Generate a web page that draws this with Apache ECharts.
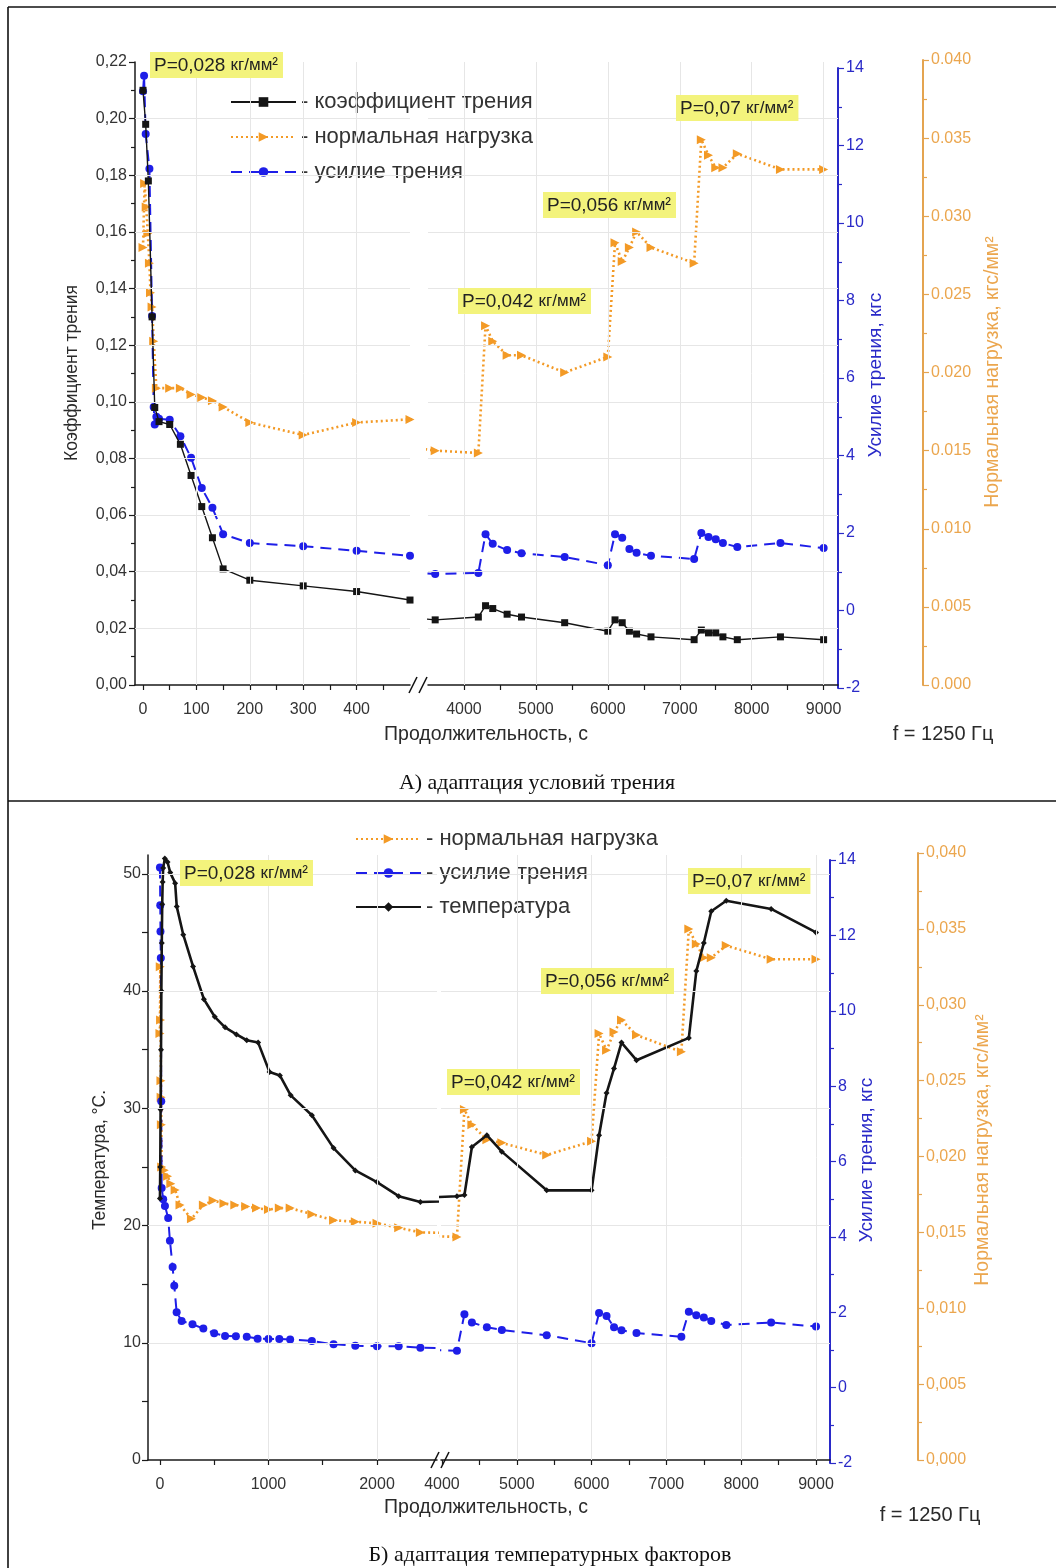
<!DOCTYPE html>
<html><head><meta charset="utf-8">
<script src="https://cdn.jsdelivr.net/npm/echarts@6/dist/echarts.min.js"></script>
<style>html,body{margin:0;padding:0;background:#fff}#c{width:1056px;height:1568px}</style>
</head><body><div id="c"></div>
<script>
// ===== Chart А: адаптация условий трения =====
const A_coef_t = [0, 5, 10, 17, 22, 30, 50, 70, 90, 110, 130, 150, 200, 300, 400, 500, 3600, 4200, 4300, 4400, 4600, 4800, 5400, 6000, 6100, 6200, 6300, 6400, 6600, 7200, 7300, 7400, 7500, 7600, 7800, 8400, 9000];
const A_coef_v = [0.210, 0.198, 0.178, 0.130, 0.098, 0.093, 0.092, 0.085, 0.074, 0.063, 0.052, 0.041, 0.037, 0.035, 0.033, 0.030, 0.023, 0.024, 0.028, 0.027, 0.025, 0.024, 0.022, 0.019, 0.023, 0.022, 0.019, 0.018, 0.017, 0.016, 0.0194, 0.0184, 0.0184, 0.017, 0.016, 0.017, 0.016];
const A_force_t = [0, 2, 5, 12, 17, 20, 22, 25, 30, 50, 70, 90, 110, 130, 150, 200, 300, 400, 500, 3600, 4200, 4300, 4400, 4600, 4800, 5400, 6000, 6100, 6200, 6300, 6400, 6600, 7200, 7300, 7400, 7500, 7600, 7800, 8400, 9000];
const A_force_v = [13.4, 13.8, 12.3, 11.4, 7.6, 5.25, 4.8, 5.0, 4.95, 4.92, 4.5, 3.94, 3.16, 2.65, 1.97, 1.74, 1.66, 1.54, 1.41, 0.94, 0.97, 1.97, 1.72, 1.56, 1.48, 1.38, 1.17, 1.97, 1.88, 1.59, 1.49, 1.41, 1.33, 2.0, 1.9, 1.84, 1.74, 1.64, 1.74, 1.61];
const A_load_t = [0, 3, 6, 9, 12, 14, 17, 20, 25, 50, 70, 90, 110, 130, 150, 200, 300, 400, 500, 3600, 4200, 4300, 4400, 4600, 4800, 5400, 6000, 6100, 6200, 6300, 6400, 6600, 7200, 7300, 7400, 7500, 7600, 7800, 8400, 9000];
const A_load_v = [0.028, 0.0321, 0.0306, 0.0289, 0.027, 0.0251, 0.0242, 0.022, 0.019, 0.019, 0.019, 0.0186, 0.0184, 0.0182, 0.0178, 0.0168, 0.016, 0.0168, 0.017, 0.0150, 0.01485, 0.0230, 0.0220, 0.0211, 0.0211, 0.0200, 0.0210, 0.0283, 0.0271, 0.0280, 0.0290, 0.0280, 0.0270, 0.0349, 0.0339, 0.0331, 0.0331, 0.0340, 0.0330, 0.0330];

// ===== Chart Б: адаптация температурных факторов =====
const B_temp_t = [0, 3, 6, 10, 13, 17, 21, 25, 30, 45, 70, 95, 140, 155, 215, 305, 405, 505, 600, 705, 800, 905, 1010, 1105, 1205, 1400, 1600, 1800, 2000, 2200, 2400, 4200, 4300, 4400, 4600, 4800, 5400, 6000, 6100, 6200, 6300, 6400, 6600, 7300, 7400, 7500, 7600, 7800, 8400, 9000];
const B_temp_v = [22.3, 25, 29.9, 35, 40, 44.1, 47.4, 49.3, 50.5, 51.3, 51, 50.1, 49.2, 47.2, 44.8, 42.1, 39.3, 37.8, 36.9, 36.3, 35.8, 35.6, 33.1, 32.8, 31.1, 29.4, 26.6, 24.7, 23.7, 22.5, 22.0, 22.5, 22.6, 26.7, 27.7, 26.3, 23.0, 23.0, 27.7, 31.3, 33.4, 35.6, 34.1, 36.0, 41.7, 44.1, 46.8, 47.7, 47.0, 45.0];
const B_force_t = [0, 3, 5, 8, 12, 16, 30, 46, 76, 92, 117, 132, 154, 200, 300, 400, 500, 600, 700, 800, 900, 1000, 1100, 1200, 1400, 1600, 1800, 2000, 2200, 2400, 4200, 4300, 4400, 4600, 4800, 5400, 6000, 6100, 6200, 6300, 6400, 6600, 7200, 7300, 7400, 7500, 7600, 7800, 8400, 9000];
const B_force_v = [13.8, 12.8, 12.1, 11.4, 7.6, 5.3, 5.0, 4.82, 4.5, 3.9, 3.2, 2.7, 2.0, 1.77, 1.68, 1.57, 1.44, 1.37, 1.36, 1.35, 1.3, 1.29, 1.29, 1.28, 1.24, 1.15, 1.11, 1.1, 1.1, 1.06, 0.98, 1.95, 1.73, 1.6, 1.53, 1.39, 1.18, 1.98, 1.9, 1.6, 1.52, 1.45, 1.35, 2.01, 1.92, 1.86, 1.77, 1.66, 1.73, 1.62];
const B_load_t = [0, 3, 6, 9, 11, 13, 16, 40, 70, 100, 140, 185, 290, 400, 490, 590, 690, 790, 890, 1000, 1100, 1200, 1400, 1600, 1800, 2000, 2200, 2400, 4200, 4300, 4400, 4600, 4800, 5400, 6000, 6100, 6200, 6300, 6400, 6600, 7200, 7300, 7400, 7500, 7600, 7800, 8400, 9000];
const B_load_v = [0.0281, 0.0325, 0.029, 0.025, 0.0239, 0.0221, 0.0193, 0.0191, 0.0187, 0.0182, 0.0178, 0.0168, 0.0159, 0.0168, 0.0171, 0.0169, 0.0168, 0.0167, 0.0166, 0.0165, 0.0166, 0.0166, 0.0162, 0.0158, 0.0157, 0.0156, 0.0153, 0.0150, 0.0147, 0.0231, 0.0221, 0.0211, 0.0209, 0.0201, 0.0210, 0.0281, 0.0270, 0.0282, 0.0290, 0.0280, 0.0269, 0.0350, 0.0340, 0.0331, 0.0331, 0.0339, 0.0330, 0.0330];

// ===== tick labels =====
const A_xLeftLabels = [0, 100, 200, 300, 400];
const A_xLeftTicks = [0, 50, 100, 150, 200, 250, 300, 350, 400, 450];
const A_xRightLabels = [4000, 5000, 6000, 7000, 8000, 9000];
const A_xRightTicks = [4000, 4500, 5000, 5500, 6000, 6500, 7000, 7500, 8000, 8500, 9000];
const B_xLeftLabels = [0, 1000, 2000];
const B_xLeftTicks = [0, 500, 1000, 1500, 2000];
const B_xRightLabels = [4000, 5000, 6000, 7000, 8000, 9000];
const B_xRightTicks = [4000, 4500, 5000, 5500, 6000, 6500, 7000, 7500, 8000, 8500, 9000];
const B_tempLabels = [0, 10, 20, 30, 40, 50];
const B_tempTicks = [0, 5, 10, 15, 20, 25, 30, 35, 40, 45, 50];

const N_COEF = 'коэффициент трения', N_LOAD = 'нормальная нагрузка', N_FORCE = 'усилие трения', N_TEMP = 'температура';

const SANS = '"Liberation Sans", Arial, sans-serif';
const SERIF = '"Liberation Serif", "Times New Roman", serif';
const C_BLACK = '#151515', C_BLUE = '#1e1ee8', C_ORANGE = '#f39a26';
const C_BLUE_AX = '#2a2ac8', C_OR_AX = '#e4a450', C_OR_TXT = '#eba64e';
const TRI = 'path://M0,0 L10,5 L0,10 Z';

const grid = [], xAxis = [], yAxis = [], series = [], graphic = [];

const styles = {
  coef: { symbol: 'rect', symbolSize: 7, lineStyle: { color: C_BLACK, width: 1.4 }, itemStyle: { color: C_BLACK } },
  force: { symbol: 'circle', symbolSize: 8, lineStyle: { color: C_BLUE, width: 2, type: [11, 7] }, itemStyle: { color: C_BLUE } },
  load: { symbol: TRI, symbolSize: 9, lineStyle: { color: C_ORANGE, width: 2.6, type: [2, 3] }, itemStyle: { color: C_ORANGE } },
  temp: { symbol: 'diamond', symbolSize: 6, lineStyle: { color: C_BLACK, width: 2.6 }, itemStyle: { color: C_BLACK } }
};

function panel(p) {
  const base = grid.length, nA = p.axes.length, nS = p.sections.length;
  p.sections.forEach((s, si) => {
    p.axes.forEach((a, ai) => {
      const gi = grid.length;
      grid.push({ left: s.left, width: s.width, top: a.top, height: a.height });
      xAxis.push({
        type: 'value', gridIndex: gi, min: s.min, max: s.max, show: ai === 0, position: 'bottom',
        axisLine: { show: true, onZero: false, lineStyle: { color: '#1a1a1a', width: 1.5 } },
        axisTick: { show: true, length: 5, customValues: s.ticks, lineStyle: { color: '#1a1a1a', width: 1.2 } },
        axisLabel: { customValues: s.labels, formatter: v => String(v), margin: 17, fontSize: 16, color: '#333', fontFamily: SANS },
        splitLine: { show: false }
      });
      const showLab = (ai === 0 && si === 0) || (ai > 0 && si === nS - 1);
      const y = {
        type: 'value', gridIndex: gi, min: a.min, max: a.max, position: a.position, offset: a.offset || 0,
        axisLine: { show: showLab, onZero: false, lineStyle: { color: a.lineColor, width: a.lineWidth } },
        axisTick: { show: showLab, length: 6, lineStyle: { color: a.lineColor, width: 1.2 } },
        minorTick: { show: showLab && !a.customTicks, splitNumber: 2, length: 4, lineStyle: { color: a.lineColor, width: 1.2 } },
        axisLabel: { show: showLab, formatter: a.fmt, margin: a.margin, fontSize: a.fontSize, color: a.labelColor, fontFamily: SANS },
        splitLine: { show: false }
      };
      if (a.interval) y.interval = a.interval;
      if (a.customTicks) { y.axisTick.customValues = a.customTicks; y.axisLabel.customValues = a.customLabels; }
      yAxis.push(y);
    });
    // light grid lines
    const gMain = base + si * nA;
    const ml = s.gridX.map(v => ({ xAxis: v })).concat(p.axes[0].gridY.map(v => ({ yAxis: v })));
    series.push({
      type: 'line', data: [], silent: true, z: 1, xAxisIndex: gMain, yAxisIndex: gMain,
      markLine: { silent: true, symbol: ['none', 'none'], animation: false, label: { show: false },
        lineStyle: { color: '#e6e6e6', width: 1, type: 'solid' }, emphasis: { disabled: true }, data: ml }
    });
  });
  p.vars.forEach(vr => {
    const pts = vr.t.map((t, i) => [t, vr.v[i]]);
    const L0 = pts.filter(q => q[0] <= p.breakAt[0]);
    const R0 = pts.filter(q => q[0] >= p.breakAt[1]);
    const L = L0.concat(R0.slice(0, 1));   // neighbour across the break, clipped by the grid
    const R = L0.slice(-1).concat(R0);
    [L, R].forEach((data, si) => {
      const gi = base + si * nA + vr.axis;
      series.push(Object.assign({
        type: 'line', name: vr.name, xAxisIndex: gi, yAxisIndex: gi, data, clip: true,
        showSymbol: true, animation: false, z: vr.z || 2, emphasis: { disabled: true }
      }, vr.style));
    });
  });
}

// Panel А
panel({
  breakAt: [500, 3500],
  sections: [
    { left: 135, width: 275, min: -15, max: 500, labels: A_xLeftLabels, ticks: A_xLeftTicks, gridX: [100, 200, 300, 400] },
    { left: 428, width: 410, min: 3500, max: 9200, labels: A_xRightLabels, ticks: A_xRightTicks, gridX: [4000, 5000, 6000, 7000, 8000, 9000] }
  ],
  axes: [
    { top: 62, height: 623, min: 0, max: 0.22, interval: 0.02, position: 'left', lineColor: '#1a1a1a', lineWidth: 1.5,
      labelColor: '#333', fontSize: 16, margin: 8, fmt: v => v.toFixed(2).replace('.', ','),
      gridY: [0.02, 0.04, 0.06, 0.08, 0.10, 0.12, 0.14, 0.16, 0.18, 0.20] },
    { top: 68, height: 620, min: -2, max: 14, interval: 2, position: 'right', lineColor: C_BLUE_AX, lineWidth: 2,
      labelColor: C_BLUE_AX, fontSize: 16, margin: 8, fmt: v => String(Math.round(v)), gridY: [] },
    { top: 60, height: 625, min: 0, max: 0.04, interval: 0.005, position: 'right', offset: 85, lineColor: C_OR_AX, lineWidth: 2,
      labelColor: C_OR_TXT, fontSize: 16, margin: 8, fmt: v => v.toFixed(3), gridY: [] }
  ],
  vars: [
    { name: N_LOAD, t: A_load_t, v: A_load_v, axis: 2, style: styles.load },
    { name: N_FORCE, t: A_force_t, v: A_force_v, axis: 1, style: styles.force },
    { name: N_COEF, t: A_coef_t, v: A_coef_v, axis: 0, style: styles.coef, z: 3 }
  ]
});

// Panel Б
panel({
  breakAt: [2553, 3987],
  sections: [
    { left: 148, width: 289, min: -110, max: 2553, labels: B_xLeftLabels, ticks: B_xLeftTicks, gridX: [1000, 2000] },
    { left: 441, width: 389, min: 3987, max: 9187, labels: B_xRightLabels, ticks: B_xRightTicks, gridX: [5000, 6000, 7000, 8000, 9000] }
  ],
  axes: [
    { top: 855, height: 605, min: 0, max: 51.6, customTicks: B_tempTicks, customLabels: B_tempLabels, position: 'left',
      lineColor: '#1a1a1a', lineWidth: 1.5, labelColor: '#333', fontSize: 16, margin: 7, fmt: v => String(Math.round(v)),
      gridY: [10, 20, 30, 40, 50] },
    { top: 860, height: 603, min: -2, max: 14, interval: 2, position: 'right', lineColor: C_BLUE_AX, lineWidth: 2,
      labelColor: C_BLUE_AX, fontSize: 16, margin: 8, fmt: v => String(Math.round(v)), gridY: [] },
    { top: 853, height: 607, min: 0, max: 0.04, interval: 0.005, position: 'right', offset: 88, lineColor: C_OR_AX, lineWidth: 2,
      labelColor: C_OR_TXT, fontSize: 16, margin: 8, fmt: v => v.toFixed(3).replace('.', ','), gridY: [] }
  ],
  vars: [
    { name: N_LOAD, t: B_load_t, v: B_load_v, axis: 2, style: styles.load },
    { name: N_FORCE, t: B_force_t, v: B_force_v, axis: 1, style: styles.force },
    { name: N_TEMP, t: B_temp_t, v: B_temp_v, axis: 0, style: styles.temp, z: 3 }
  ]
});

// ---- decorations: text, notes, break marks, borders
function txt(x, y, text, o) {
  o = o || {};
  graphic.push({ type: 'text', x, y, rotation: o.rot || 0, z: 20, silent: true,
    style: { text, fill: o.color || '#2a2a2a', font: (o.size || 16) + 'px ' + (o.family || SANS),
      align: o.align || 'center', textAlign: o.align || 'center', verticalAlign: 'middle', textVerticalAlign: 'middle' } });
}
function note(x, y, val) {
  graphic.push({ type: 'text', x, y, z: 20, silent: true,
    style: { text: '{a|P=' + val + ' }{b|кг/мм²}', backgroundColor: '#f3f37c', padding: [4, 5, 3, 4],
      rich: { a: { fontSize: 19, fontFamily: SANS, fill: '#222', color: '#222' }, b: { fontSize: 17, fontFamily: SANS, fill: '#222', color: '#222' } } } });
}
function brk(x, y) {
  [0, 10].forEach(dx => graphic.push({ type: 'line', z: 20, silent: true,
    shape: { x1: x + dx, y1: y + 8, x2: x + dx + 8, y2: y - 8 }, style: { stroke: '#111', lineWidth: 1.6 } }));
}
const R90 = Math.PI / 2;
// А
txt(72, 373, 'Коэффициент трения', { rot: R90, size: 17.5 });
txt(876, 375, 'Усилие трения, кгс', { rot: R90, size: 19, color: C_BLUE_AX });
txt(993, 372, 'Нормальная нагрузка, кгс/мм²', { rot: R90, size: 19.5, color: C_OR_TXT });
txt(486, 735, 'Продолжительность, с', { size: 19.5 });
txt(943, 734, 'f = 1250 Гц', { size: 20 });
txt(537, 783, 'А) адаптация условий трения', { size: 22, family: SERIF, color: '#111' });
note(150, 52, '0,028'); note(458, 288, '0,042'); note(543, 192, '0,056'); note(676, 95, '0,07');
brk(409, 685);
// Б
txt(100, 1160, 'Температура, °С.', { rot: R90, size: 17.5 });
txt(867, 1160, 'Усилие трения, кгс', { rot: R90, size: 19, color: C_BLUE_AX });
txt(983, 1150, 'Нормальная нагрузка, кгс/мм²', { rot: R90, size: 19.5, color: C_OR_TXT });
txt(486, 1508, 'Продолжительность, с', { size: 19.5 });
txt(930, 1515, 'f = 1250 Гц', { size: 20 });
txt(550, 1555, 'Б) адаптация температурных факторов', { size: 22, family: SERIF, color: '#111' });
note(180, 860, '0,028'); note(447, 1069, '0,042'); note(541, 968, '0,056'); note(688, 868, '0,07');
brk(431, 1460);
// table borders
[[8, 7, 1056, 7], [8, 7, 8, 1568], [8, 801, 1056, 801]].forEach(l => graphic.push({ type: 'line', z: 20, silent: true,
  shape: { x1: l[0], y1: l[1], x2: l[2], y2: l[3] }, style: { stroke: '#111', lineWidth: 1.6 } }));

const legendBase = { orient: 'vertical', itemWidth: 65, itemHeight: 12, padding: 0, selectedMode: false,
  formatter: n => '- ' + n, textStyle: { fontSize: 22, color: '#333', fontFamily: SANS } };

const chart = echarts.init(document.getElementById('c'), null, { renderer: 'canvas' });
chart.setOption({
  backgroundColor: '#fff', animation: false,
  legend: [
    Object.assign({ left: 230, top: 91, itemGap: 13, data: [N_COEF, N_LOAD, N_FORCE] }, legendBase),
    Object.assign({ left: 355, top: 828, itemGap: 12, data: [N_LOAD, N_FORCE, N_TEMP] }, legendBase)
  ],
  grid, xAxis, yAxis, series, graphic
});
</script></body></html>
